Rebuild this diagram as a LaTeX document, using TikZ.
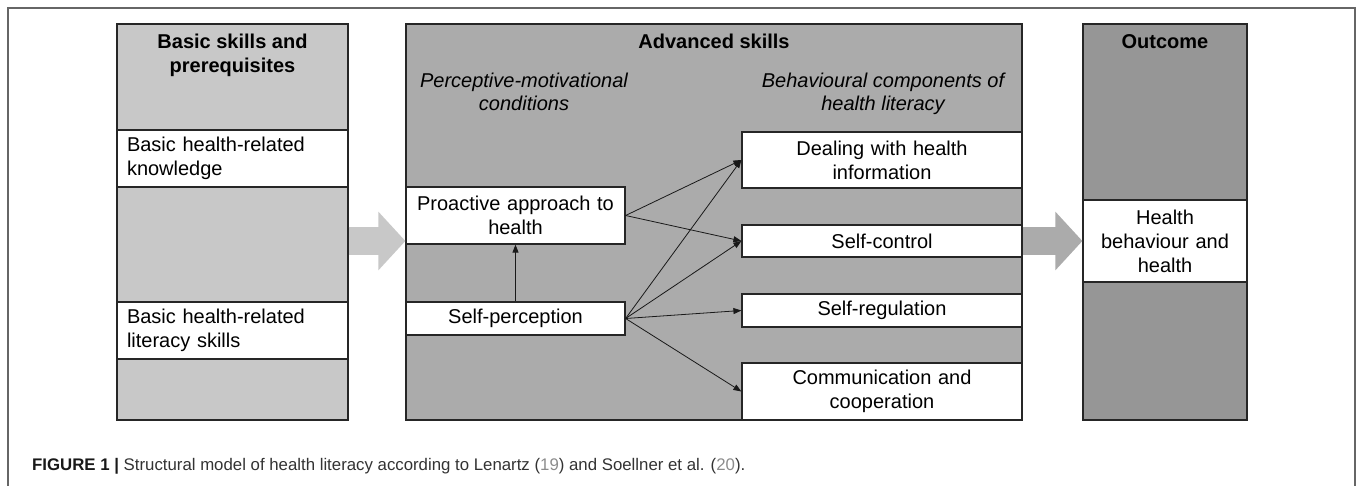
\documentclass[tikz,border=0pt]{standalone}
\usepackage{fontspec}
\setmainfont{Liberation Sans}
\usetikzlibrary{arrows.meta}
\definecolor{basicgray}{RGB}{200,200,200}
\definecolor{advgray}{RGB}{171,171,171}
\definecolor{outgray}{RGB}{150,150,150}
\definecolor{citegray}{RGB}{140,140,140}

\begin{document}
\begin{tikzpicture}[
    x=1pt, y=-1pt,
    panel/.style={rectangle, draw=black!85, line width=1.2pt, minimum width=#1, minimum height=396pt, inner sep=0pt},
    itembox/.style={rectangle, draw=black!85, fill=white, line width=1.2pt, inner xsep=10pt, inner ysep=0pt, font=\fontsize{20}{24}\selectfont},
    title/.style={anchor=north, inner sep=0pt, align=center, font=\bfseries\fontsize{20}{24}\selectfont},
    subhead/.style={anchor=north, inner sep=0pt, align=center, font=\itshape\fontsize{20}{23}\selectfont},
    link/.style={-{Triangle[length=8pt, width=6pt]}, line width=0.8pt, draw=black!90},
    bigarrow/.style={-{Triangle[length=27pt, width=57pt]}, line width=28pt},
    frameline/.style={draw=black!60, line width=1.5pt}
]
\useasboundingbox (0,0) rectangle (1358,486);

% outer frame
\draw[frameline] (8,486) -- (8,8) -- (1355,8) -- (1355,486);

% the three columns
\node[panel=231pt, fill=basicgray] (basic) at (232.5,222) {};
\node[panel=616pt, fill=advgray] (adv) at (714,222) {};
\node[panel=164pt, fill=outgray] (outcome) at (1165,222) {};

\node[title] (basictitle) at (232.5,34) {Basic skills and\\prerequisites};
\node[title] (advtitle) at (714,34) {Advanced skills};
\node[title] (outtitle) at (1165,34) {Outcome};

\node[subhead] (perchead) at (524,73) {Perceptive-motivational\\conditions};
\node[subhead] (behavhead) at (883,73) {Behavioural components of\\health literacy};

% basic skills
\node[itembox, text width=211pt, align=left, minimum height=57pt] (knowledge) at (232.5,158.5) {Basic health-related\\knowledge};
\node[itembox, text width=211pt, align=left, minimum height=57pt] (litskills) at (232.5,330.5) {Basic health-related\\literacy skills};

% perceptive-motivational conditions
\node[itembox, text width=199pt, align=center, minimum height=57pt] (proactive) at (515.5,215.5) {Proactive approach to\\health};
\node[itembox, text width=199pt, align=center, minimum height=33pt] (selfperc) at (515.5,318.5) {Self-perception};

% behavioural components
\node[itembox, text width=260pt, align=center, minimum height=56pt] (dealing) at (882,160) {Dealing with health\\information};
\node[itembox, text width=260pt, align=center, minimum height=32pt] (selfctrl) at (882,241) {Self-control};
\node[itembox, text width=260pt, align=center, minimum height=33pt] (selfreg) at (882,310.5) {Self-regulation};
\node[itembox, text width=260pt, align=center, minimum height=57pt] (commun) at (882,391.5) {Communication and\\cooperation};

% outcome
\node[itembox, text width=144pt, align=center, minimum height=82pt] (behaviour) at (1165,241) {Health\\behaviour and\\health};

% block arrows between columns
\draw[bigarrow, draw=basicgray] (basic.east |- selfctrl) -- (adv.west |- selfctrl);
\draw[bigarrow, draw=advgray] (adv.east |- selfctrl) -- (outcome.west |- selfctrl);

\draw[link] (selfperc) -- (proactive);
\draw[link] (proactive.east) -- (dealing.west);
\draw[link] (proactive.east) -- (selfctrl.west);
\draw[link] (selfperc.east) -- (dealing.west);
\draw[link] (selfperc.east) -- (selfctrl.west);
\draw[link] (selfperc.east) -- (selfreg.west);
\draw[link] (selfperc.east) -- (commun.west);

\node[anchor=base west, inner sep=0pt, font=\fontsize{16.8}{20}\selectfont, text=black!80] (caption) at (32,470)
    {\textbf{\color{black!90}FIGURE 1 |} Structural model of health literacy according to Lenartz ({\color{citegray}19}) and Soellner et al. ({\color{citegray}20}).};

\end{tikzpicture}
\end{document}
